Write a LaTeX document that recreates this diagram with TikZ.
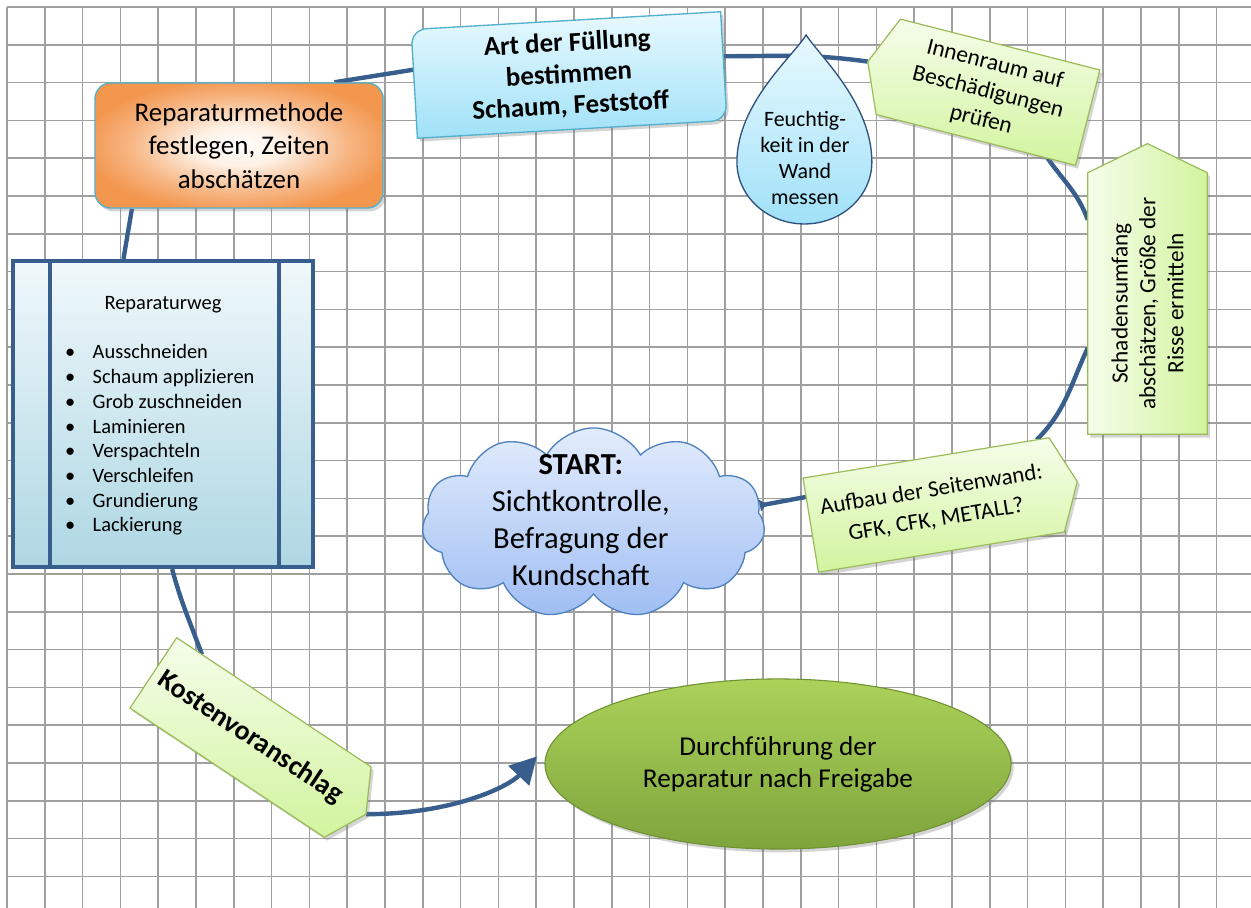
\documentclass[tikz,border=0pt]{standalone}
\usepackage{fontspec}
\setmainfont{Carlito}
\usetikzlibrary{calc,arrows.meta,shapes.geometric,shapes.symbols,shadows}

\definecolor{linienblau}{RGB}{56,94,142}
\definecolor{gittergrau}{RGB}{160,160,160}
\definecolor{tuerkis}{RGB}{82,176,204}
\definecolor{orangerand}{RGB}{243,150,78}
\definecolor{orangehell}{RGB}{254,240,228}
\definecolor{eisblau}{RGB}{232,249,254}
\definecolor{himmelblau}{RGB}{160,225,248}
\definecolor{tropfenrand}{RGB}{50,80,125}
\definecolor{hellgruen}{RGB}{245,253,234}
\definecolor{blassgruen}{RGB}{210,244,158}
\definecolor{olivgruen}{RGB}{155,187,89}
\definecolor{wolkehell}{RGB}{226,236,252}
\definecolor{wolkeblau}{RGB}{160,190,243}
\definecolor{wolkerand}{RGB}{79,129,189}
\definecolor{wegoben}{RGB}{240,248,251}
\definecolor{wegmitte}{RGB}{196,227,236}
\definecolor{wegunten}{RGB}{174,215,227}
\definecolor{grasgruen}{RGB}{172,210,90}
\definecolor{moosgruen}{RGB}{126,164,60}
\definecolor{ellipsenrand}{RGB}{110,145,50}

\pgfdeclareradialshading{orangeglut}{\pgfpoint{0bp}{0bp}}{color(0bp)=(white); color(8bp)=(orangehell); color(19bp)=(orangerand!70!white); color(27bp)=(orangerand); color(50bp)=(orangerand)}

\pgfdeclarelayer{raster}
\pgfdeclarelayer{linien}
\pgfdeclarelayer{formen}
\pgfsetlayers{raster,linien,formen,main}

\begin{document}
\begin{tikzpicture}[
	gitterlinie/.style={draw=gittergrau,line width=1.1pt},
	kreislauf/.style={draw=linienblau,line width=3.3pt},
	schatten/.style={drop shadow={shadow xshift=2pt,shadow yshift=-2.5pt,opacity=0.3,fill=black!55}},
	etikett/.style={rectangle,inner sep=0pt,align=center},
	gruenform/.style={top color=hellgruen,bottom color=blassgruen,draw=olivgruen,line width=0.9pt,schatten},
	blaukasten/.style={top color=eisblau,bottom color=himmelblau,draw=tuerkis,line width=1pt,schatten},
	tropfen/.style={top color=eisblau,bottom color=himmelblau,draw=tropfenrand,line width=1pt},
	orangekasten/.style={rectangle,rounded corners=0.42cm,minimum width=7.62cm,minimum height=3.31cm,shade,shading=orangeglut,draw=tuerkis,line width=1pt,align=center,font=\fontsize{20.3}{25.2}\selectfont,schatten},
	wegkasten/.style={rectangle,minimum width=7.94cm,minimum height=8.1cm,top color=wegoben,middle color=wegmitte,bottom color=wegunten,draw=linienblau,line width=3pt},
	wegrand/.style={draw=linienblau,line width=3pt},
	wegtext/.style={inner sep=0pt,font=\fontsize{15.4}{18.6}\selectfont},
	wolke/.style={cloud,cloud puffs=11,cloud puff arc=120,cloud ignores aspect,minimum width=9.07cm,minimum height=5.03cm,inner sep=0pt,top color=wolkehell,bottom color=wolkeblau,draw=wolkerand,line width=1pt},
	zielellipse/.style={ellipse,minimum width=12.33cm,minimum height=4.5cm,inner sep=0pt,top color=grasgruen,bottom color=moosgruen,draw=ellipsenrand,line width=0.8pt,align=center,font=\fontsize{20.5}{24}\selectfont,schatten}
]
	\useasboundingbox (-0.185,0.185) rectangle (32.910,-23.836);
	\begin{pgfonlayer}{raster}
		\fill[white] (-0.185,0.185) rectangle (32.910,-23.836);
		\draw[gitterlinie] (0,-23.836) grid (32.910,0);
	\end{pgfonlayer}

	\node[orangekasten] (methode) at (6.138,-3.664) {Reparaturmethode\\festlegen, Zeiten\\abschätzen};

	\node[etikett,rotate=3.3,minimum width=8.2cm,minimum height=2.88cm,font=\bfseries\fontsize{20.3}{23.7}\selectfont] (fuellung) at (14.868,-1.799) {Art der Füllung\\bestimmen\\Schaum, Feststoff};
	\begin{pgfonlayer}{formen}
		\begin{scope}[shift={(fuellung.center)},rotate=3.3]
			\path[blaukasten] (-4.1,-1.44) -- (-4.1,1.04) arc[start angle=180,end angle=90,radius=0.4] -- (4.1,1.44) -- (4.1,-1.04) arc[start angle=0,end angle=-90,radius=0.4] -- cycle;
		\end{scope}
	\end{pgfonlayer}

	\node[etikett,font=\fontsize{16.5}{19.6}\selectfont] (feuchte) at (21.111,-3.995) {Feuchtig-\\keit in der\\Wand\\messen};
	\begin{pgfonlayer}{formen}
		\path[tropfen] (21.14,-0.74) .. controls (21.5,-1.3) and (22.88,-2.55) .. (22.88,-4.1) arc[start angle=0,end angle=-180,x radius=1.785,y radius=1.64] .. controls (19.31,-2.55) and (20.8,-1.3) .. (21.14,-0.74) -- cycle;
	\end{pgfonlayer}

	\node[etikett,rotate=-14.3,minimum width=5.43cm,minimum height=2.59cm,font=\fontsize{17.6}{21.5}\selectfont] (innen) at (25.952,-2.255) {Innenraum auf\\Beschädigungen\\prüfen};
	\coordinate (innenspitze) at ($(innen.west)!-0.56cm!(innen.east)$);
	\begin{pgfonlayer}{formen}
		\path[gruenform] (innen.north west) -- (innen.north east) -- (innen.south east) -- (innen.south west) -- (innenspitze) -- cycle;
	\end{pgfonlayer}

	\node[etikett,rotate=90,minimum width=6.905cm,minimum height=3.148cm,font=\fontsize{17.5}{21}\selectfont] (schaden) at (30.172,-7.844) {Schadensumfang\\abschätzen, Größe der\\Risse ermitteln};
	\coordinate (schadenspitze) at ($(schaden.east)!-0.77cm!(schaden.west)$);
	\begin{pgfonlayer}{formen}
		\path[gruenform,left color=hellgruen,right color=blassgruen] (schaden.south west) -- (schaden.south east) -- (schadenspitze) -- (schaden.north east) -- (schaden.north west) -- cycle;
	\end{pgfonlayer}

	\node[etikett,rotate=9.3,minimum width=6.58cm,minimum height=2.51cm,font=\fontsize{17.3}{22.6}\selectfont] (aufbau) at (24.517,-13.175) {Aufbau der Seitenwand:\\GFK, CFK, METALL?};
	\coordinate (aufbauspitze) at ($(aufbau.east)!-0.55cm!(aufbau.west)$);
	\begin{pgfonlayer}{formen}
		\path[gruenform] (aufbau.north west) -- (aufbau.north east) -- (aufbauspitze) -- (aufbau.south east) -- (aufbau.south west) -- cycle;
	\end{pgfonlayer}

	\node[etikett,rotate=-33.6,minimum width=6.16cm,minimum height=2.22cm,font=\bfseries\fontsize{21}{25}\selectfont] (kosten) at (6.442,-19.325) {Kostenvoranschlag};
	\coordinate (kostenspitze) at ($(kosten.east)!-0.58cm!(kosten.west)$);
	\begin{pgfonlayer}{formen}
		\path[gruenform] (kosten.north west) -- (kosten.north east) -- (kostenspitze) -- (kosten.south east) -- (kosten.south west) -- cycle;
	\end{pgfonlayer}

	\node[wegkasten] (weg) at (4.127,-10.767) {};
	\draw[wegrand] ($(weg.north west)+(1.03,0)$) -- ($(weg.south west)+(1.03,0)$);
	\draw[wegrand] ($(weg.north east)+(-0.95,0)$) -- ($(weg.south east)+(-0.95,0)$);
	\node[wegtext] (wegtitel) at (4.127,-7.884) {Reparaturweg};
	\node[wegtext,anchor=west] (wegliste) at (1.534,-11.468) {\begin{tabular}{@{}l@{\hspace{13pt}}l@{}}
		\textbullet & Ausschneiden\\
		\textbullet & Schaum applizieren\\
		\textbullet & Grob zuschneiden\\
		\textbullet & Laminieren\\
		\textbullet & Verspachteln\\
		\textbullet & Verschleifen\\
		\textbullet & Grundierung\\
		\textbullet & Lackierung
	\end{tabular}};

	\node[wolke] (start) at (15.516,-13.651) {};
	\node[etikett,font=\fontsize{23}{27.9}\selectfont] (starttext) at (15.18,-13.57) {\textbf{START:}\\Sichtkontrolle,\\Befragung der\\Kundschaft};

	\node[zielellipse] (ziel) at (20.397,-20.026) {Durchführung der\\Reparatur nach Freigabe};

	\begin{pgfonlayer}{linien}
		\draw[kreislauf,{Latex[reversed,length=6pt,width=10pt]}-] (start.6) -- ($(aufbau.north west)!0.2!(aufbau.south west)$);
		\draw[kreislauf] ($(aufbau.north west)!0.95!(aufbau.north east)$) to[out=45,in=-115] ($(schaden.north west)!0.33!(schaden.north east)$);
		\draw[kreislauf] ($(schaden.north west)!0.82!(schaden.north east)$) to[out=110,in=-55] ($(innen.south west)!0.86!(innen.south east)$);
		\draw[kreislauf] (innenspitze) to[out=172,in=0] ($(fuellung.north east)!0.41!(fuellung.south east)$);
		\draw[kreislauf] ($(fuellung.north west)!0.37!(fuellung.south west)$) -- ($(methode.north west)!0.83!(methode.north east)$);
		\draw[kreislauf] ($(methode.south west)!0.13!(methode.south east)$) -- ($(weg.north west)!0.37!(weg.north east)$);
		\draw[kreislauf] ($(weg.south west)!0.53!(weg.south east)$) to[out=-75,in=110] ($(kosten.north west)!0.13!(kosten.north east)$);
		\draw[kreislauf,-{Triangle[length=20pt,width=21pt]}] (kostenspitze) .. controls +(2.3,0) and +(-0.75,-0.8) .. ($(ziel.west)+(-0.2,0.2)$);
	\end{pgfonlayer}
\end{tikzpicture}
\end{document}
